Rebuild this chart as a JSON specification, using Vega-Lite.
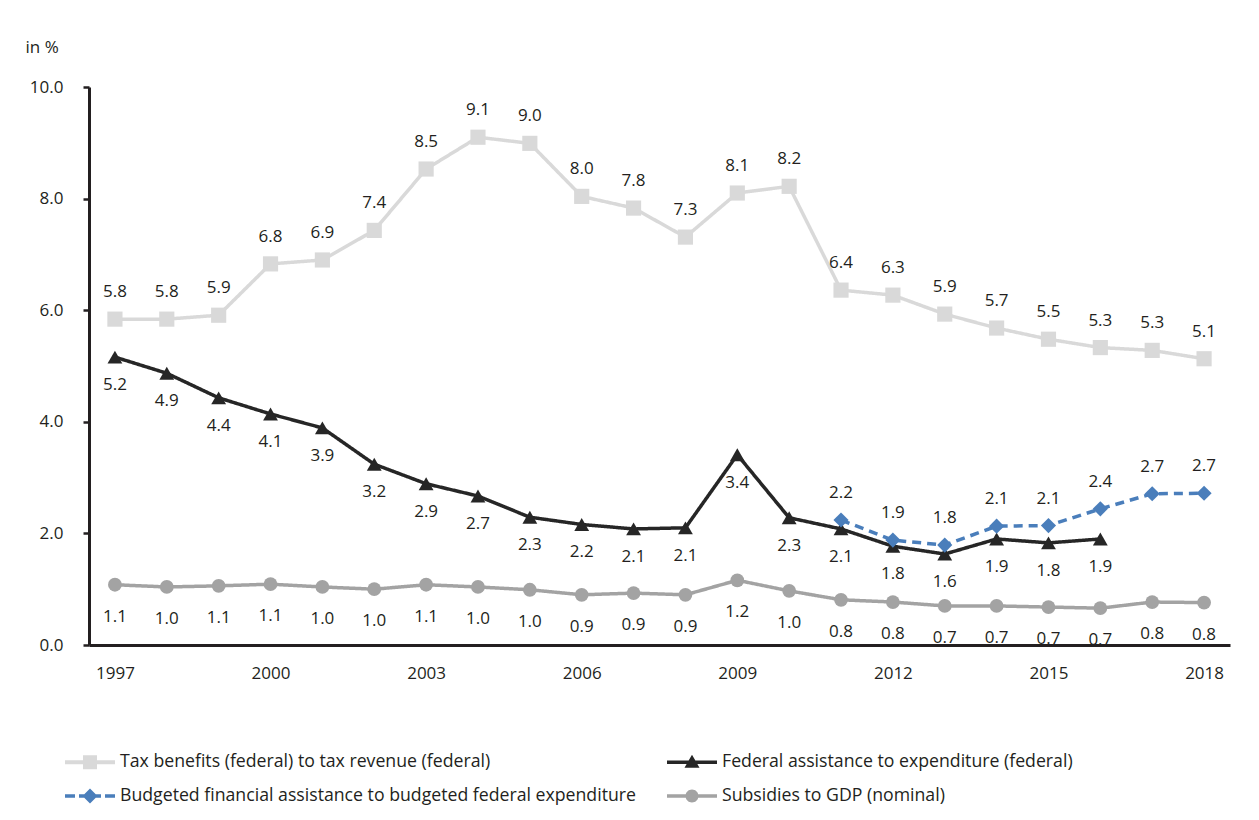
{
  "$schema": "https://vega.github.io/schema/vega-lite/v6.json",
  "width": 1141,
  "height": 558,
  "autosize": {"type": "none"},
  "padding": {"left": 89, "top": 87, "right": 29, "bottom": 175},
  "background": "white",
  "config": {
    "font": "Open Sans",
    "view": {"stroke": null},
    "axis": {"labelColor": "#231f20", "labelFontSize": 17, "grid": false, "domainColor": "#231f20", "domainWidth": 3, "tickColor": "#231f20", "tickWidth": 2.5}
  },
  "data": {"values": [
    {"year": 1997, "series": "Tax benefits (federal) to tax revenue (federal)", "value": 5.84},
    {"year": 1998, "series": "Tax benefits (federal) to tax revenue (federal)", "value": 5.84},
    {"year": 1999, "series": "Tax benefits (federal) to tax revenue (federal)", "value": 5.91},
    {"year": 2000, "series": "Tax benefits (federal) to tax revenue (federal)", "value": 6.83},
    {"year": 2001, "series": "Tax benefits (federal) to tax revenue (federal)", "value": 6.9},
    {"year": 2002, "series": "Tax benefits (federal) to tax revenue (federal)", "value": 7.43},
    {"year": 2003, "series": "Tax benefits (federal) to tax revenue (federal)", "value": 8.53},
    {"year": 2004, "series": "Tax benefits (federal) to tax revenue (federal)", "value": 9.1},
    {"year": 2005, "series": "Tax benefits (federal) to tax revenue (federal)", "value": 8.99},
    {"year": 2006, "series": "Tax benefits (federal) to tax revenue (federal)", "value": 8.04},
    {"year": 2007, "series": "Tax benefits (federal) to tax revenue (federal)", "value": 7.83},
    {"year": 2008, "series": "Tax benefits (federal) to tax revenue (federal)", "value": 7.31},
    {"year": 2009, "series": "Tax benefits (federal) to tax revenue (federal)", "value": 8.1},
    {"year": 2010, "series": "Tax benefits (federal) to tax revenue (federal)", "value": 8.22},
    {"year": 2011, "series": "Tax benefits (federal) to tax revenue (federal)", "value": 6.36},
    {"year": 2012, "series": "Tax benefits (federal) to tax revenue (federal)", "value": 6.27},
    {"year": 2013, "series": "Tax benefits (federal) to tax revenue (federal)", "value": 5.93},
    {"year": 2014, "series": "Tax benefits (federal) to tax revenue (federal)", "value": 5.68},
    {"year": 2015, "series": "Tax benefits (federal) to tax revenue (federal)", "value": 5.48},
    {"year": 2016, "series": "Tax benefits (federal) to tax revenue (federal)", "value": 5.33},
    {"year": 2017, "series": "Tax benefits (federal) to tax revenue (federal)", "value": 5.28},
    {"year": 2018, "series": "Tax benefits (federal) to tax revenue (federal)", "value": 5.13},
    {"year": 1997, "series": "Federal assistance to expenditure (federal)", "value": 5.16},
    {"year": 1998, "series": "Federal assistance to expenditure (federal)", "value": 4.87},
    {"year": 1999, "series": "Federal assistance to expenditure (federal)", "value": 4.43},
    {"year": 2000, "series": "Federal assistance to expenditure (federal)", "value": 4.14},
    {"year": 2001, "series": "Federal assistance to expenditure (federal)", "value": 3.89},
    {"year": 2002, "series": "Federal assistance to expenditure (federal)", "value": 3.24},
    {"year": 2003, "series": "Federal assistance to expenditure (federal)", "value": 2.89},
    {"year": 2004, "series": "Federal assistance to expenditure (federal)", "value": 2.67},
    {"year": 2005, "series": "Federal assistance to expenditure (federal)", "value": 2.29},
    {"year": 2006, "series": "Federal assistance to expenditure (federal)", "value": 2.16},
    {"year": 2007, "series": "Federal assistance to expenditure (federal)", "value": 2.08},
    {"year": 2008, "series": "Federal assistance to expenditure (federal)", "value": 2.1},
    {"year": 2009, "series": "Federal assistance to expenditure (federal)", "value": 3.41},
    {"year": 2010, "series": "Federal assistance to expenditure (federal)", "value": 2.28},
    {"year": 2011, "series": "Federal assistance to expenditure (federal)", "value": 2.08},
    {"year": 2012, "series": "Federal assistance to expenditure (federal)", "value": 1.77},
    {"year": 2013, "series": "Federal assistance to expenditure (federal)", "value": 1.63},
    {"year": 2014, "series": "Federal assistance to expenditure (federal)", "value": 1.9},
    {"year": 2015, "series": "Federal assistance to expenditure (federal)", "value": 1.83},
    {"year": 2016, "series": "Federal assistance to expenditure (federal)", "value": 1.9},
    {"year": 2011, "series": "Budgeted financial assistance to budgeted federal expenditure", "value": 2.24},
    {"year": 2012, "series": "Budgeted financial assistance to budgeted federal expenditure", "value": 1.88},
    {"year": 2013, "series": "Budgeted financial assistance to budgeted federal expenditure", "value": 1.79},
    {"year": 2014, "series": "Budgeted financial assistance to budgeted federal expenditure", "value": 2.13},
    {"year": 2015, "series": "Budgeted financial assistance to budgeted federal expenditure", "value": 2.14},
    {"year": 2016, "series": "Budgeted financial assistance to budgeted federal expenditure", "value": 2.44},
    {"year": 2017, "series": "Budgeted financial assistance to budgeted federal expenditure", "value": 2.71},
    {"year": 2018, "series": "Budgeted financial assistance to budgeted federal expenditure", "value": 2.72},
    {"year": 1997, "series": "Subsidies to GDP (nominal)", "value": 1.08},
    {"year": 1998, "series": "Subsidies to GDP (nominal)", "value": 1.04},
    {"year": 1999, "series": "Subsidies to GDP (nominal)", "value": 1.06},
    {"year": 2000, "series": "Subsidies to GDP (nominal)", "value": 1.09},
    {"year": 2001, "series": "Subsidies to GDP (nominal)", "value": 1.04},
    {"year": 2002, "series": "Subsidies to GDP (nominal)", "value": 1.0},
    {"year": 2003, "series": "Subsidies to GDP (nominal)", "value": 1.08},
    {"year": 2004, "series": "Subsidies to GDP (nominal)", "value": 1.04},
    {"year": 2005, "series": "Subsidies to GDP (nominal)", "value": 0.99},
    {"year": 2006, "series": "Subsidies to GDP (nominal)", "value": 0.9},
    {"year": 2007, "series": "Subsidies to GDP (nominal)", "value": 0.93},
    {"year": 2008, "series": "Subsidies to GDP (nominal)", "value": 0.9},
    {"year": 2009, "series": "Subsidies to GDP (nominal)", "value": 1.16},
    {"year": 2010, "series": "Subsidies to GDP (nominal)", "value": 0.97},
    {"year": 2011, "series": "Subsidies to GDP (nominal)", "value": 0.81},
    {"year": 2012, "series": "Subsidies to GDP (nominal)", "value": 0.77},
    {"year": 2013, "series": "Subsidies to GDP (nominal)", "value": 0.7},
    {"year": 2014, "series": "Subsidies to GDP (nominal)", "value": 0.7},
    {"year": 2015, "series": "Subsidies to GDP (nominal)", "value": 0.68},
    {"year": 2016, "series": "Subsidies to GDP (nominal)", "value": 0.66},
    {"year": 2017, "series": "Subsidies to GDP (nominal)", "value": 0.77},
    {"year": 2018, "series": "Subsidies to GDP (nominal)", "value": 0.76}
  ]},
  "encoding": {
    "x": {"field": "year", "type": "quantitative",
      "scale": {"domain": [1996.5, 2018.5], "nice": false, "zero": false},
      "axis": {"title": null, "values": [1997, 2000, 2003, 2006, 2009, 2012, 2015, 2018], "format": "d", "ticks": false, "labelPadding": 20, "labelFlush": false}},
    "y": {"field": "value", "type": "quantitative",
      "scale": {"domain": [0, 10], "nice": false},
      "axis": {"title": "in %", "values": [0, 2, 4, 6, 8, 10], "format": ".1f", "tickSize": 6, "labelPadding": 20,
        "titleAngle": 0, "titleX": -64, "titleY": -40, "titleAlign": "left", "titleBaseline": "middle",
        "titleFontSize": 17, "titleFontWeight": "normal", "titleColor": "#231f20", "titleFont": "Open Sans"}}
  },
  "layer": [
    {
      "mark": {"type": "line", "strokeWidth": 3.5},
      "encoding": {
        "color": {"field": "series", "type": "nominal",
          "legend": {"title": null, "orient": "none", "legendX": -24, "legendY": 650, "direction": "horizontal", "columns": 2, "columnPadding": 31, "rowPadding": 0,
            "labelFontSize": 17.7, "labelColor": "#231f20", "labelFont": "Open Sans", "labelLimit": 0, "labelOffset": 5,
            "symbolSize": 2500, "symbolStrokeWidth": 0, "symbolOpacity": 1,
            "encode": {"symbols": {"update": {"fill": {"scale": "color", "field": "value"}, "strokeWidth": {"value": 0}, "shape": {"signal": "['M-1,-0.08L-0.28,-0.08L-0.28,0.08L-1,0.08Z M0.28,-0.08L1,-0.08L1,0.08L0.28,0.08Z M-0.28,-0.28L0.28,-0.28L0.28,0.28L-0.28,0.28Z', 'M-1,-0.07L1,-0.07L1,0.07L-1,0.07Z M0,-0.3L0.3,0.22L-0.3,0.22Z', 'M-1,-0.07L-0.6,-0.07L-0.6,0.07L-1,0.07Z M-0.44,-0.07L-0.2,-0.07L-0.2,0.07L-0.44,0.07Z M0.2,-0.07L0.44,-0.07L0.44,0.07L0.2,0.07Z M0.6,-0.07L1,-0.07L1,0.07L0.6,0.07Z M-0.3,0L0,-0.3L0.3,0L0,0.3Z', 'M-1,-0.07L1,-0.07L1,0.07L-1,0.07Z M-0.26,0A0.26,0.26 0 1,1 0.26,0A0.26,0.26 0 1,1 -0.26,0Z'][datum.index]"}}}}},
          "scale": {"domain": ["Tax benefits (federal) to tax revenue (federal)", "Federal assistance to expenditure (federal)", "Budgeted financial assistance to budgeted federal expenditure", "Subsidies to GDP (nominal)"],
            "range": ["#d9d9d9", "#262626", "#4a7ebb", "#a3a3a3"]}},
        "strokeDash": {"field": "series", "type": "nominal", "legend": null,
          "scale": {"domain": ["Tax benefits (federal) to tax revenue (federal)", "Federal assistance to expenditure (federal)", "Budgeted financial assistance to budgeted federal expenditure", "Subsidies to GDP (nominal)"],
            "range": [[1, 0], [1, 0], [9, 6], [1, 0]]}}
      }
    },
    {
      "transform": [{"filter": "datum.series === 'Tax benefits (federal) to tax revenue (federal)'"}],
      "mark": {"type": "point", "filled": true, "opacity": 1, "shape": "square", "size": 230, "color": "#d9d9d9"}
    },
    {
      "transform": [{"filter": "datum.series === 'Federal assistance to expenditure (federal)'"}],
      "mark": {"type": "point", "filled": true, "opacity": 1, "shape": "triangle-up", "size": 220, "color": "#262626"}
    },
    {
      "transform": [{"filter": "datum.series === 'Budgeted financial assistance to budgeted federal expenditure'"}],
      "mark": {"type": "point", "filled": true, "opacity": 1, "shape": "diamond", "size": 230, "color": "#4a7ebb"}
    },
    {
      "transform": [{"filter": "datum.series === 'Subsidies to GDP (nominal)'"}],
      "mark": {"type": "point", "filled": true, "opacity": 1, "shape": "circle", "size": 190, "color": "#a3a3a3"}
    },
    {
      "transform": [{"filter": "datum.series === 'Tax benefits (federal) to tax revenue (federal)' || datum.series === 'Budgeted financial assistance to budgeted federal expenditure'"}],
      "mark": {"type": "text", "dy": -27, "fontSize": 17, "color": "#231f20", "baseline": "middle"},
      "encoding": {"text": {"field": "value", "type": "quantitative", "format": ".1f"}}
    },
    {
      "transform": [{"filter": "datum.series === 'Federal assistance to expenditure (federal)'"}],
      "mark": {"type": "text", "dy": 28, "fontSize": 17, "color": "#231f20", "baseline": "middle"},
      "encoding": {"text": {"field": "value", "type": "quantitative", "format": ".1f"}}
    },
    {
      "transform": [{"filter": "datum.series === 'Subsidies to GDP (nominal)'"}],
      "mark": {"type": "text", "dy": 32, "fontSize": 17, "color": "#231f20", "baseline": "middle"},
      "encoding": {"text": {"field": "value", "type": "quantitative", "format": ".1f"}}
    }
  ]
}
